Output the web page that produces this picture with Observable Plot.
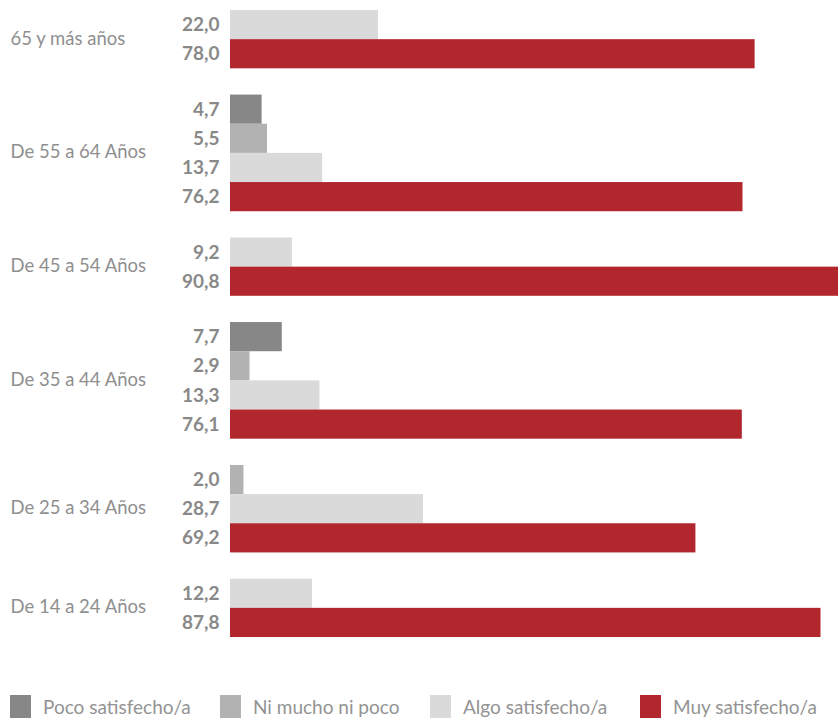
<!DOCTYPE html>
<html>
<head>
<meta charset="utf-8">
<script src="https://cdn.jsdelivr.net/npm/d3@7"></script>
<script src="https://cdn.jsdelivr.net/npm/@observablehq/plot@0.6"></script>
<style>
  html, body { margin: 0; padding: 0; background: #fff; }
  #wrap { position: relative; width: 838px; height: 718px; overflow: hidden; }
  #legend { position: absolute; left: 0; top: 695px; width: 838px; height: 30px; font-family: Lato, sans-serif; font-weight: 400; font-size: 19px; color: #939393; }
  .item { position: absolute; top: 0; display: flex; align-items: flex-start; }
  .sw { width: 21px; height: 24px; margin-right: 12px; }
  .lab { line-height: 22px; margin-top: 1px; }
</style>
</head>
<body>
<div id="wrap"><div id="chart"></div><div id="legend"></div></div>
<script>
const groups = ["65 y más años", "De 55 a 64 Años", "De 45 a 54 Años", "De 35 a 44 Años", "De 25 a 34 Años", "De 14 a 24 Años"];
const series = ["Poco satisfecho/a", "Ni mucho ni poco", "Algo satisfecho/a", "Muy satisfecho/a"];
const colors = ["#878787", "#b2b2b2", "#dadada", "#b2272e"];
const poco = [0, 4.7, 0, 7.7, 0, 0];
const ni   = [0, 5.5, 0, 2.9, 2.0, 0];
const algo = [22.0, 13.7, 9.2, 13.3, 28.7, 12.2];
const muy  = [78.0, 76.2, 90.8, 76.1, 69.2, 87.8];
const legendX = [10, 220, 430, 640];

const values = [poco, ni, algo, muy];
const gap = 0.9;
const rows = [];
const groupRows = [];
let pos = 0;
groups.forEach((g, gi) => {
  const start = pos;
  series.forEach((s, si) => {
    const v = values[si][gi];
    if (v > 0) { rows.push({group: g, series: s, value: v, pos}); pos += 1; }
  });
  groupRows.push({group: g, mid: (start + pos) / 2});
  pos += gap;
});
const total = pos - gap;

const fmt = v => v.toFixed(1).replace(".", ",");

const chart = Plot.plot({
  width: 838,
  height: 650,
  marginLeft: 230,
  marginRight: 0,
  marginTop: 10,
  marginBottom: 13,
  x: {domain: [0, 90.4], axis: null},
  y: {domain: [0, total], range: [10, 637], axis: null},
  color: {domain: series, range: colors},
  marks: [
    Plot.rect(rows, {x1: 0, x2: "value", y1: "pos", y2: d => d.pos + 1, fill: "series"}),
    Plot.text(rows, {x: 0, y: d => d.pos + 0.5, text: d => fmt(d.value), textAnchor: "end", dx: -11,
      fontFamily: "Lato, sans-serif", fontWeight: "bold", fontSize: 19, fill: "#898989"}),
    Plot.text(groupRows, {x: 0, y: "mid", text: "group", textAnchor: "start", dx: -220, dy: -1,
      fontFamily: "Lato, sans-serif", fontWeight: 400, fontSize: 18.5, fill: "#8f8f8f"})
  ]
});
document.getElementById("chart").appendChild(chart);

const legend = document.getElementById("legend");
series.forEach((s, i) => {
  const it = document.createElement("div");
  it.className = "item";
  it.style.left = legendX[i] + "px";
  it.innerHTML = `<div class="sw" style="background:${colors[i]}"></div><div class="lab">${s}</div>`;
  legend.appendChild(it);
});
</script>
</body>
</html>
